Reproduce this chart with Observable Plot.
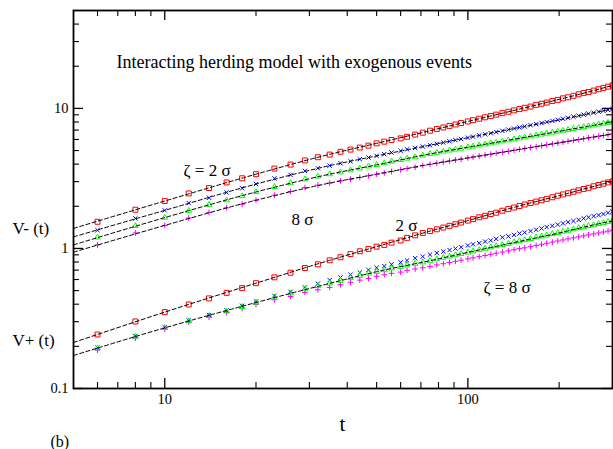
<!DOCTYPE html>
<html>
<head>
<meta charset="utf-8">
<script src="https://cdn.jsdelivr.net/npm/d3@7"></script>
<script src="https://cdn.jsdelivr.net/npm/@observablehq/plot@0.6"></script>
<style>
  html, body { margin: 0; padding: 0; background: #fff; }
  #chart { width: 613px; height: 449px; }
</style>
</head>
<body>
<div id="chart"></div>
<script>
// time points of the markers
const t = [6,8,10,12,14,16,18,20,23,26,29,32,35,38,41,44,47,50,53,56,60,63,67,71,75,79,83,87,91,95,100,104,109,114,119,124,130,136,142,148,154,161,168,175,182,190,198,206,214,223,232,241,250,260,270,280,290,300];

// V-(t) for zeta = 2, 4, 6, 8 sigma
const vMinus2 = [1.55,1.89,2.18,2.47,2.70,2.96,3.17,3.39,3.72,3.97,4.25,4.48,4.68,4.90,5.08,5.25,5.42,5.63,5.79,5.95,6.11,6.27,6.50,6.71,6.93,7.13,7.31,7.50,7.68,7.86,8.07,8.24,8.44,8.64,8.83,9.02,9.25,9.46,9.68,9.89,10.1,10.3,10.6,10.8,11.0,11.3,11.5,11.8,12.0,12.3,12.6,12.9,13.1,13.4,13.7,14.0,14.3,14.6];
const vMinus4 = [1.35,1.64,1.87,2.11,2.30,2.51,2.69,2.88,3.16,3.35,3.58,3.74,3.90,4.06,4.19,4.34,4.46,4.58,4.71,4.84,4.97,5.10,5.22,5.34,5.46,5.58,5.70,5.82,5.93,6.04,6.18,6.28,6.41,6.53,6.65,6.77,6.91,7.05,7.18,7.31,7.43,7.58,7.72,7.86,7.99,8.14,8.28,8.43,8.57,8.72,8.87,9.02,9.16,9.32,9.47,9.61,9.76,9.91];
const vMinus6 = [1.20,1.45,1.66,1.86,2.05,2.21,2.37,2.53,2.75,2.93,3.12,3.27,3.39,3.50,3.62,3.73,3.86,3.95,4.07,4.18,4.29,4.39,4.49,4.62,4.73,4.83,4.92,5.01,5.09,5.17,5.28,5.35,5.45,5.54,5.64,5.73,5.83,5.93,6.03,6.12,6.21,6.32,6.42,6.52,6.62,6.73,6.84,6.94,7.04,7.15,7.26,7.36,7.46,7.58,7.69,7.80,7.90,8.00];
const vMinus8 = [1.06,1.29,1.46,1.65,1.81,1.95,2.07,2.21,2.40,2.55,2.72,2.83,2.93,3.04,3.12,3.21,3.30,3.39,3.46,3.54,3.64,3.72,3.80,3.91,3.99,4.06,4.14,4.21,4.28,4.34,4.43,4.49,4.57,4.64,4.71,4.78,4.86,4.94,5.02,5.10,5.17,5.25,5.33,5.41,5.49,5.58,5.66,5.74,5.82,5.91,5.99,6.07,6.16,6.24,6.33,6.41,6.49,6.57];

// V+(t) for zeta = 2, 4, 6, 8 sigma
const vPlus2 = [0.243,0.301,0.351,0.398,0.440,0.482,0.521,0.565,0.622,0.671,0.725,0.770,0.823,0.865,0.912,0.955,0.992,1.03,1.06,1.10,1.14,1.19,1.24,1.29,1.33,1.37,1.41,1.45,1.49,1.53,1.58,1.62,1.67,1.71,1.76,1.80,1.86,1.91,1.96,2.01,2.06,2.11,2.16,2.21,2.26,2.32,2.38,2.43,2.48,2.54,2.60,2.66,2.71,2.78,2.84,2.90,2.96,3.01];
const vPlus4 = [0.196,0.237,0.273,0.306,0.334,0.361,0.389,0.418,0.459,0.490,0.527,0.560,0.594,0.620,0.649,0.673,0.703,0.728,0.748,0.770,0.796,0.821,0.852,0.875,0.903,0.928,0.951,0.974,0.997,1.02,1.05,1.07,1.09,1.12,1.14,1.17,1.20,1.22,1.25,1.28,1.30,1.33,1.36,1.39,1.42,1.45,1.48,1.51,1.54,1.57,1.60,1.64,1.67,1.70,1.73,1.76,1.80,1.83];
const vPlus6 = [0.194,0.235,0.271,0.303,0.330,0.356,0.383,0.411,0.447,0.478,0.513,0.541,0.563,0.588,0.615,0.638,0.664,0.682,0.701,0.721,0.740,0.760,0.778,0.797,0.818,0.839,0.859,0.878,0.897,0.915,0.937,0.955,0.976,0.997,1.02,1.04,1.06,1.08,1.11,1.13,1.15,1.17,1.20,1.22,1.24,1.27,1.29,1.32,1.34,1.37,1.40,1.42,1.45,1.47,1.50,1.52,1.55,1.57];
const vPlus8 = [0.188,0.229,0.265,0.297,0.323,0.349,0.373,0.398,0.430,0.454,0.485,0.507,0.527,0.551,0.573,0.594,0.611,0.632,0.649,0.664,0.678,0.697,0.713,0.728,0.745,0.762,0.778,0.794,0.809,0.824,0.843,0.857,0.874,0.891,0.908,0.924,0.943,0.961,0.979,0.997,1.01,1.03,1.05,1.07,1.09,1.11,1.13,1.15,1.17,1.19,1.21,1.23,1.25,1.27,1.29,1.31,1.33,1.35];

// dashed fit curves
const fitT = [5,10,20,35,50,75,100,150,200,250,300];
const fitMinus2 = [1.39,2.18,3.39,4.70,5.63,6.93,8.07,9.95,11.6,13.1,14.6];
const fitMinus4 = [1.21,1.87,2.88,3.90,4.58,5.46,6.18,7.35,8.28,9.16,9.91];
const fitMinus6 = [1.06,1.66,2.53,3.39,3.95,4.73,5.28,6.15,6.86,7.46,8.00];
const fitMinus8 = [0.94,1.46,2.21,2.93,3.39,3.99,4.43,5.12,5.68,6.16,6.57];
const fitPlus2 = [0.213,0.351,0.565,0.823,1.03,1.33,1.58,2.03,2.38,2.71,3.01];
const fitPlus6 = [0.172,0.271,0.411,0.563,0.682,0.818,0.937,1.13,1.29,1.445,1.574];

// ticks
const xMajor = [10, 100];
const xMinor = [6,7,8,9,20,30,40,50,60,70,80,90,200];
const yMajor = [0.1, 1, 10];
const yMinor = [0.2,0.3,0.4,0.5,0.6,0.7,0.8,0.9,2,3,4,5,6,7,8,9,20,30,40];

const W = 613, H = 449, mL = 73, mR = 1, mT = 10, mB = 61;
const fw = W - mL - mR, fh = H - mT - mB;
const serif = "'Liberation Serif', 'Times New Roman', serif";

const RED = "#ff0000", BLUE = "#0000ff", GREEN = "#00ff00", MAG = "#ff00ff";

const dots = (ys, sym, color, r) => Plot.dot(t, {x: t, y: ys, symbol: sym, r, fill: "none", stroke: color, strokeWidth: 1});
const fit = (ys) => Plot.line(fitT, {x: fitT, y: ys, stroke: "black", strokeWidth: 1, strokeDasharray: "4,2.5", curve: "monotone-x"});
const label = (s, dx, dy, size, anchor = "start") => Plot.text([s], {frameAnchor: "top-left", dx, dy, textAnchor: anchor, fontSize: size, fontFamily: serif, fill: "black"});

const chart = Plot.plot({
  width: W, height: H,
  marginLeft: mL, marginRight: mR, marginTop: mT, marginBottom: mB,
  x: {type: "log", domain: [5, 300]},
  y: {type: "log", domain: [0.1, 50]},
  style: {fontFamily: serif, fontSize: "14px", color: "black", background: "white", overflow: "visible"},
  marks: [
    // inward ticks
    Plot.tickX(xMajor, {x: d => d, insetTop: fh - 10, stroke: "black", strokeWidth: 1.3}),
    Plot.tickX(xMajor, {x: d => d, insetBottom: fh - 10, stroke: "black", strokeWidth: 1.3}),
    Plot.tickX(xMinor, {x: d => d, insetTop: fh - 6, stroke: "black", strokeWidth: 1.1}),
    Plot.tickX(xMinor, {x: d => d, insetBottom: fh - 6, stroke: "black", strokeWidth: 1.1}),
    Plot.tickY(yMajor, {y: d => d, insetRight: fw - 10, stroke: "black", strokeWidth: 1.3}),
    Plot.tickY(yMajor, {y: d => d, insetLeft: fw - 10, stroke: "black", strokeWidth: 1.3}),
    Plot.tickY(yMinor, {y: d => d, insetRight: fw - 6, stroke: "black", strokeWidth: 1.1}),
    Plot.tickY(yMinor, {y: d => d, insetLeft: fw - 6, stroke: "black", strokeWidth: 1.1}),
    Plot.axisX({ticks: xMajor, tickSize: 0, tickPadding: 5, tickFormat: d => String(d), label: null, fontSize: 14.5, fontFamily: serif}),
    Plot.axisY({ticks: yMajor, tickSize: 0, tickPadding: 5, tickFormat: d => String(d), label: null, fontSize: 14.5, fontFamily: serif}),
    // markers
    dots(vMinus2, "square", RED, 2.8),
    dots(vMinus4, "times", BLUE, 2.1),
    dots(vMinus8, "plus", MAG, 2.0),
    dots(vMinus6, "triangle", GREEN, 2.1),
    dots(vPlus2, "square", RED, 2.8),
    dots(vPlus8, "plus", MAG, 2.0),
    dots(vPlus4, "times", BLUE, 2.1),
    dots(vPlus6, "triangle", GREEN, 2.1),
    // fits
    fit(fitMinus2), fit(fitMinus4), fit(fitMinus6), fit(fitMinus8),
    fit(fitPlus2), fit(fitPlus6),
    Plot.frame({stroke: "black", strokeWidth: 1.8}),
    // annotations
    label("Interacting herding model with exogenous events", 43, 45, 18),
    label("ζ = 2 σ", 110, 153, 17),
    label("8 σ", 218, 202, 17),
    label("2 σ", 322, 208, 17),
    label("ζ = 8 σ", 410, 270, 17),
    label("V- (t)", -61, 211, 17),
    label("V+ (t)", -61, 323, 17),
    label("t", 269, 406, 21, "middle"),
    label("(b)", -23, 425, 16)
  ]
});
document.getElementById("chart").appendChild(chart);
</script>
</body>
</html>
